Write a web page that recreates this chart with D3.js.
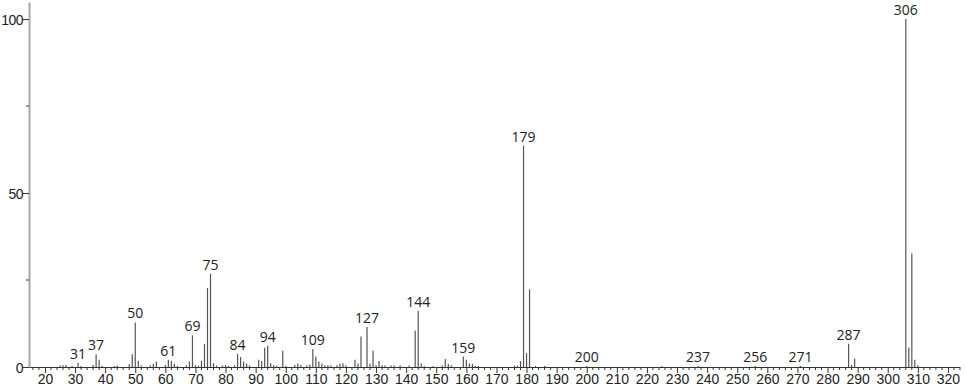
<!DOCTYPE html>
<html lang="en">
<head>
<meta charset="UTF-8">
<title>Mass spectrum</title>
<script src="https://d3js.org/d3.v7.min.js"></script>
<style>
  body { margin: 0; padding: 0; background: #fff; overflow: hidden; }
  svg { display: block; font-family: "Open Sans", "DejaVu Sans", sans-serif; }
  .lbl { font-size: 14px; fill: #222; }
  .tick text { font-size: 14px; fill: #222; }
</style>
</head>
<body>
<svg id="chart" width="966" height="389"></svg>
<script>
// m/z values and relative intensities
const mz = [25, 26, 27, 29, 31, 32, 36, 37, 38, 39, 43, 44, 48, 49, 50, 51, 52, 55, 56, 57,
  60, 61, 62, 63, 64, 67, 68, 69, 70, 71, 72, 73, 74, 75, 76, 77, 79, 80, 81, 83,
  84, 85, 86, 87, 88, 91, 92, 93, 94, 95, 96, 97, 99, 100, 103, 104, 105, 107, 108, 109,
  110, 111, 112, 113, 114, 115, 117, 118, 119, 120, 123, 124, 125, 127, 128, 129, 130, 131, 132, 133,
  135, 136, 138, 141, 143, 144, 145, 146, 149, 152, 153, 154, 155, 159, 160, 161, 162, 163, 164, 176,
  177, 178, 179, 180, 181, 183, 186, 200, 225, 237, 256, 271, 287, 288, 289, 306, 307, 308, 309, 310];
const intensity = [0.4, 0.5, 0.6, 0.3, 1.2, 0.3, 0.6, 3.7, 2.1, 0.3, 0.3, 0.4, 0.8, 3.7, 12.8, 1.8, 0.4, 0.5, 0.9, 1.6,
  0.6, 2.1, 1.8, 0.9, 0.3, 0.5, 1.6, 9.1, 0.5, 0.4, 1.8, 6.6, 22.7, 26.8, 1.1, 0.4, 0.4, 0.6, 0.3, 0.5,
  3.8, 2.9, 1.6, 1.0, 0.4, 2.1, 1.7, 5.5, 6.1, 1.1, 0.5, 0.3, 4.7, 0.3, 0.6, 1.0, 0.6, 0.4, 0.7, 5.2,
  3.0, 1.6, 1.0, 0.5, 0.5, 0.4, 0.5, 0.9, 1.1, 0.4, 2.1, 1.0, 8.8, 11.5, 0.9, 4.7, 0.5, 1.7, 0.5, 0.4,
  0.4, 0.4, 0.4, 0.4, 10.5, 16.2, 1.0, 0.3, 0.3, 0.4, 2.3, 0.9, 0.5, 3.0, 2.1, 1.0, 0.9, 0.3, 0.3, 0.4,
  0.4, 1.7, 63.6, 4.0, 22.3, 0.3, 0.3, 0.3, 0.3, 0.3, 0.3, 0.3, 6.7, 0.6, 2.4, 100, 5.6, 32.6, 2.1, 0.5];

// peaks that carry a label
const labelled = [31, 37, 50, 61, 69, 75, 84, 94, 109, 127, 144, 159, 179, 200, 237, 256, 271, 287, 306];

const xTicks = d3.range(20, 321, 10);
const xMinor = d3.range(16, 325, 2);
const yTicks = [0, 50, 100];
const yMinor = [25, 75];

const svg = d3.select('#chart');

const x = d3.scaleLinear().domain([14.7, 326]).range([29, 966]);
const y = d3.scaleLinear().domain([0, 104.9]).range([367, 2]);

const peaks = mz.map((m, i) => ({ mz: m, v: intensity[i] }));

// minor x ticks
svg.append('g')
  .selectAll('line')
  .data(xMinor.filter(d => d % 10 !== 0))
  .enter().append('line')
  .attr('x1', d => x(d)).attr('x2', d => x(d))
  .attr('y1', y(0)).attr('y2', y(0) + 3)
  .attr('stroke', '#333').attr('stroke-width', 1);

// x axis
const xAxis = svg.append('g')
  .attr('transform', `translate(0,${y(0)})`)
  .call(d3.axisBottom(x).tickValues(xTicks).tickSize(6).tickSizeOuter(0).tickPadding(1));
xAxis.select('.domain').attr('stroke', '#333').attr('d', `M29,0.5H960`);
xAxis.selectAll('.tick line').attr('stroke', '#333');

// y axis
const yAxis = svg.append('g')
  .attr('transform', `translate(29,0)`)
  .call(d3.axisLeft(y).tickValues(yTicks).tickSize(6).tickSizeOuter(0).tickPadding(0));
yAxis.select('.domain').attr('stroke', '#a8a8a8').attr('stroke-width', 2);
yAxis.selectAll('.tick line').attr('stroke', '#333');
yAxis.selectAll('.tick text').attr('dy', '0.36em').style('letter-spacing', '-0.5px');

svg.append('g')
  .selectAll('line')
  .data(yMinor)
  .enter().append('line')
  .attr('x1', 26).attr('x2', 29)
  .attr('y1', d => y(d)).attr('y2', d => y(d))
  .attr('stroke', '#333');

// peaks
svg.append('g')
  .selectAll('line')
  .data(peaks)
  .enter().append('line')
  .attr('x1', d => x(d.mz)).attr('x2', d => x(d.mz))
  .attr('y1', y(0)).attr('y2', d => y(d.v))
  .attr('stroke', '#555').attr('stroke-width', 1.2);

// labels
svg.append('g')
  .selectAll('text')
  .data(peaks.filter(d => labelled.includes(d.mz)))
  .enter().append('text')
  .attr('class', 'lbl')
  .attr('x', d => x(d.mz))
  .attr('y', d => y(d.v) - 4)
  .attr('text-anchor', 'middle')
  .text(d => d.mz);
</script>
</body>
</html>
